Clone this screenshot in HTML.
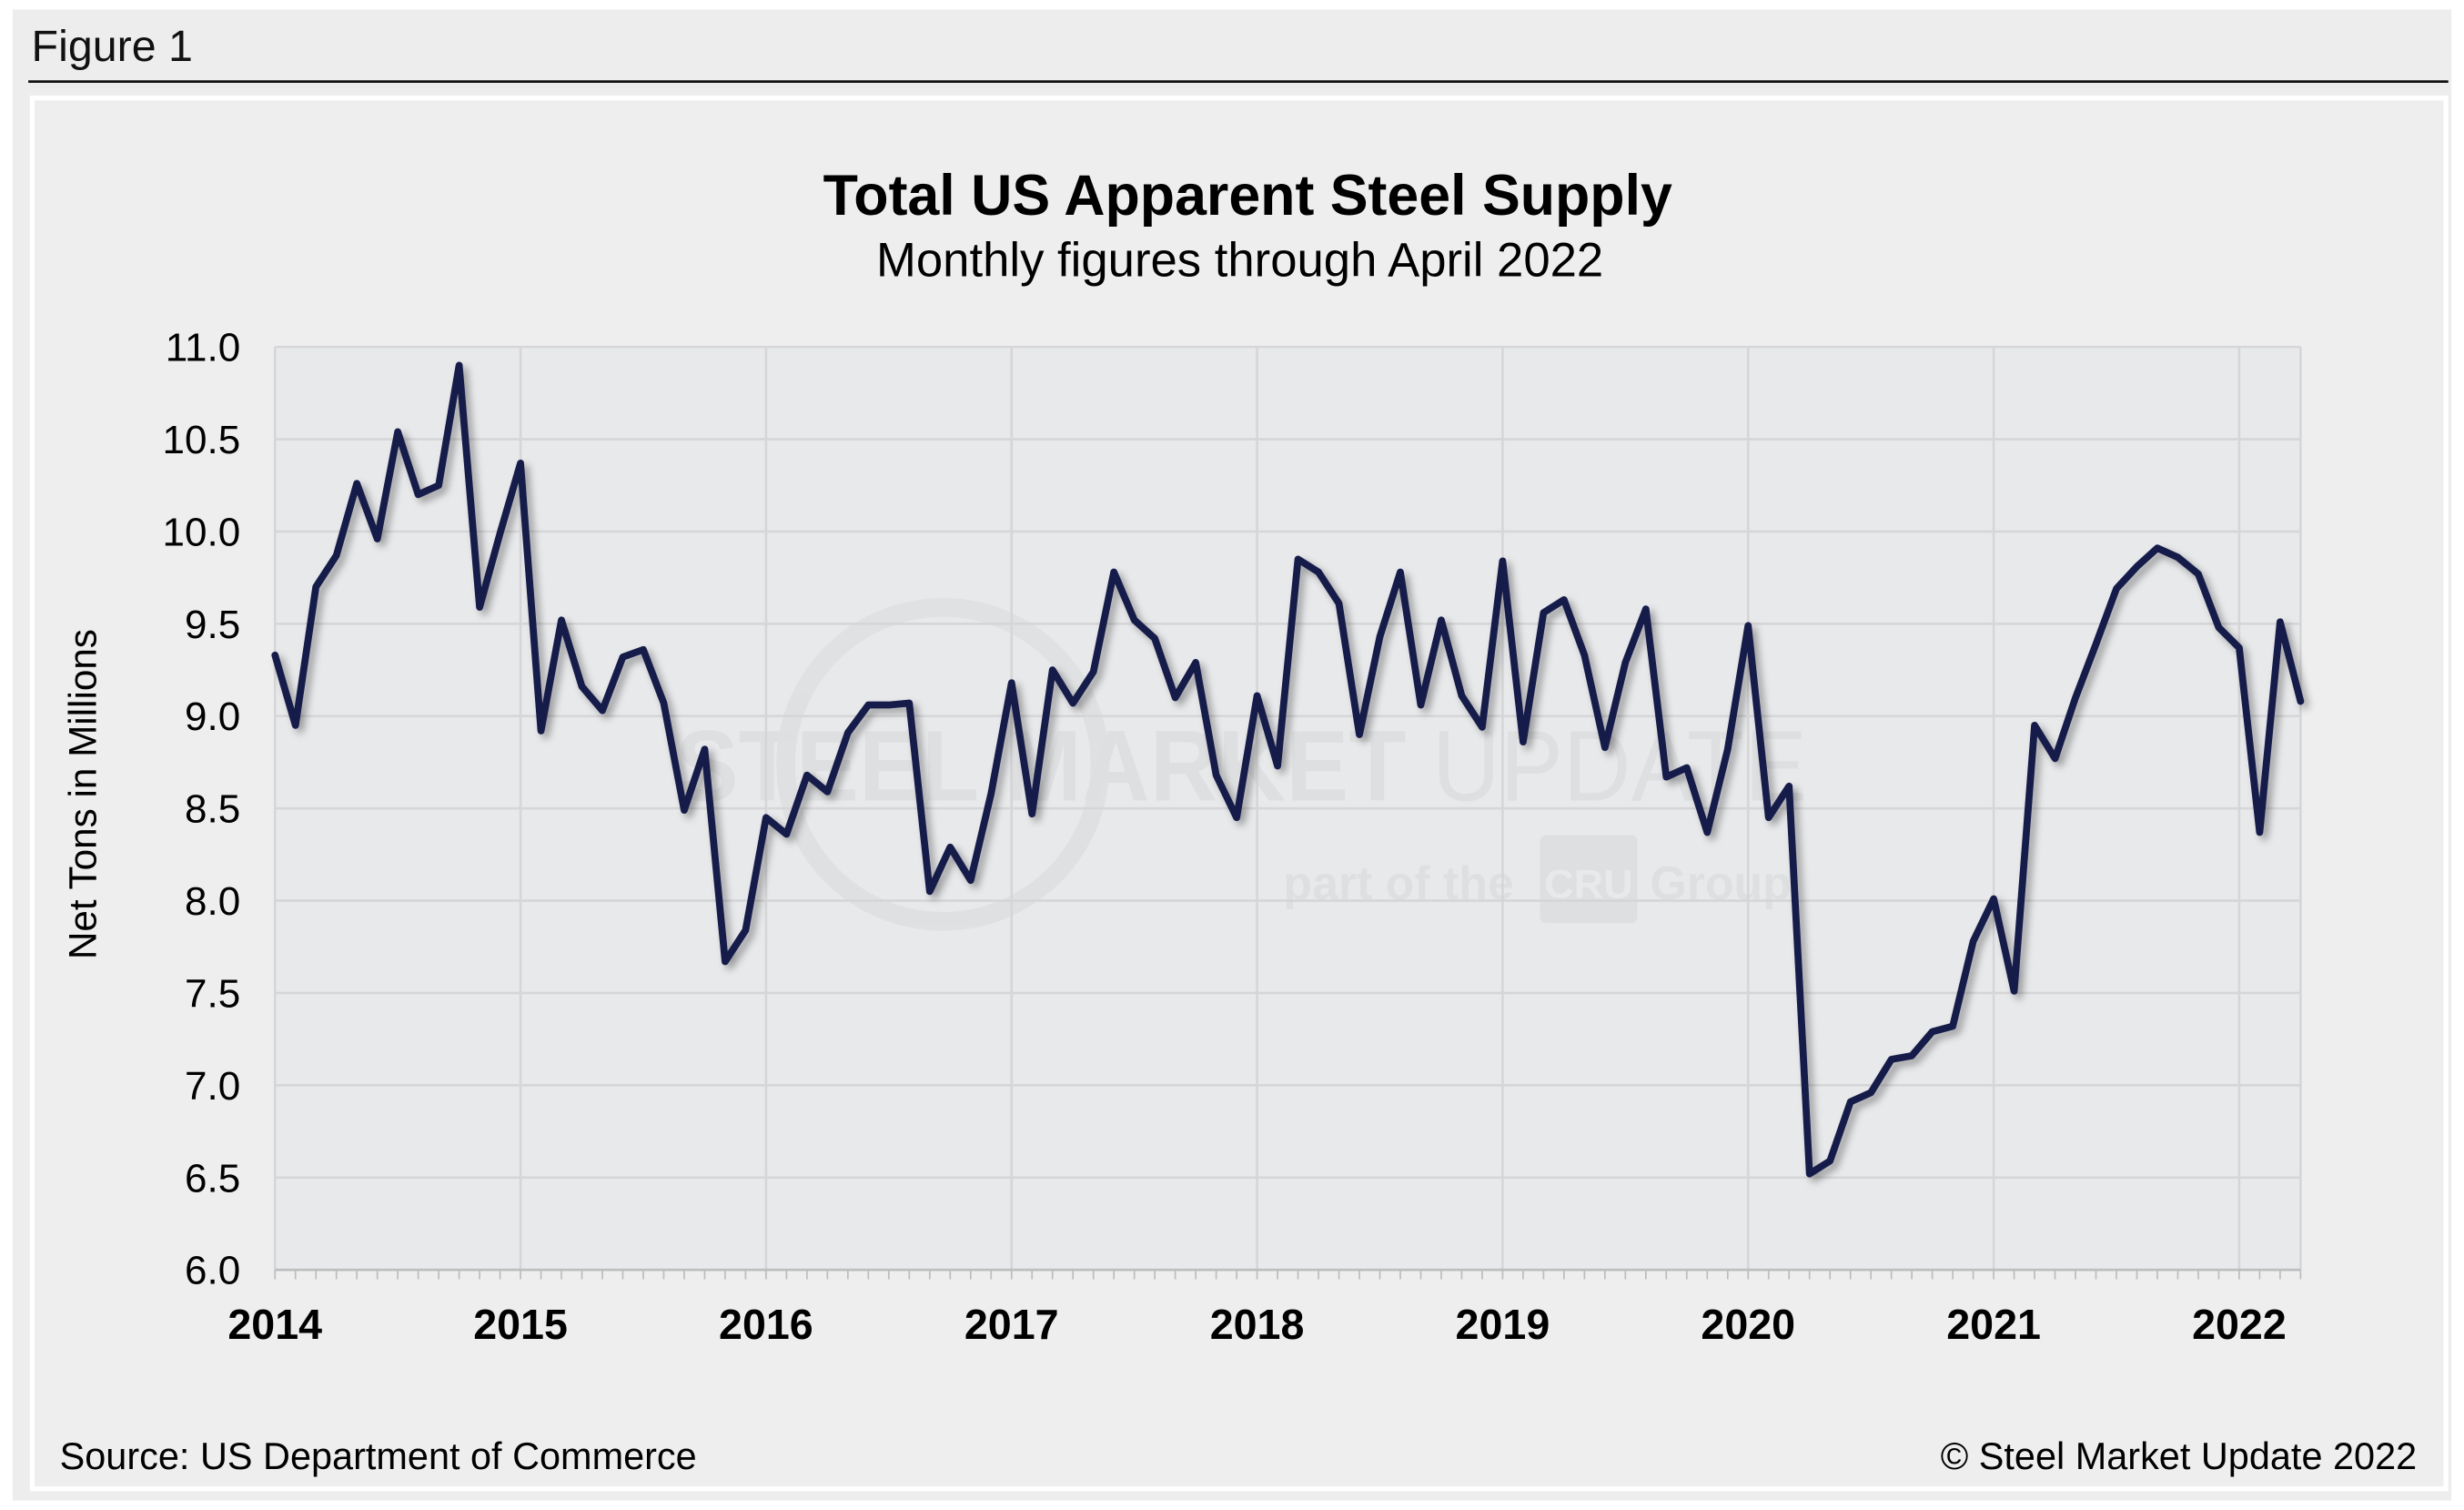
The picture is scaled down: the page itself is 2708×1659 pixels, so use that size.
<!DOCTYPE html>
<html><head><meta charset="utf-8">
<style>
html,body{margin:0;padding:0;background:#fff;}
svg{display:block;}
text{font-family:"Liberation Sans",Arial,sans-serif;}
</style></head>
<body>
<svg id="chart" width="2708" height="1659" viewBox="0 0 1568 962" preserveAspectRatio="none" xmlns="http://www.w3.org/2000/svg">
<defs>
<filter id="sh" x="-5%" y="-5%" width="110%" height="110%"><feGaussianBlur in="SourceAlpha" stdDeviation="2.5"/><feOffset dx="3" dy="3"/><feComponentTransfer><feFuncA type="linear" slope="0.35"/></feComponentTransfer><feMerge><feMergeNode/><feMergeNode in="SourceGraphic"/></feMerge></filter>
</defs>
<rect x="0" y="0" width="1568" height="962" fill="#fff"/>
<rect x="8" y="6" width="1552" height="950" fill="#ededed"/>
<text x="20" y="39" font-size="28" fill="#111">Figure 1</text>
<line x1="18" y1="52" x2="1558" y2="52" stroke="#111" stroke-width="1.6"/>
<rect x="20.5" y="62.5" width="1536" height="886" fill="#eeeeee" stroke="#fff" stroke-width="3"/>
<text x="794" y="137" font-size="36.3" font-weight="bold" text-anchor="middle" fill="#000">Total US Apparent Steel Supply</text>
<text x="789" y="176" font-size="30.5" text-anchor="middle" fill="#000">Monthly figures through April 2022</text>
<rect x="175" y="221" width="1289" height="588" fill="#e8e9eb"/>
<g id="grid"></g>
<g id="watermark" opacity="0.45">
<circle cx="600" cy="487" r="100" fill="none" stroke="#d6d6d8" stroke-width="12"/>
<text x="790" y="510" font-size="64" text-anchor="middle" fill="#d4d4d6" textLength="720" lengthAdjust="spacingAndGlyphs"><tspan font-weight="bold">STEEL MARKET</tspan> UPDATE</text>
<text x="890" y="573" font-size="30" font-weight="bold" text-anchor="middle" fill="#d4d4d6">part of the</text>
<rect x="980" y="532" width="62" height="56" rx="4" fill="#d4d4d6"/>
<text x="1011" y="572" font-size="26" font-weight="bold" text-anchor="middle" fill="#e8e9eb">CRU</text>
<text x="1095" y="573" font-size="30" font-weight="bold" text-anchor="middle" fill="#d4d4d6">Group</text>
</g>
<g id="axes"></g>
<g id="series"></g>
<text transform="translate(61,506) rotate(-90)" font-size="24.5" text-anchor="middle" fill="#000">Net Tons in Millions</text>
<text x="38" y="936" font-size="24" fill="#000">Source: US Department of Commerce</text>
<text x="1538" y="936" font-size="24" text-anchor="end" fill="#000">© Steel Market Update 2022</text>
</svg>
<script>
const values = [
9.33,8.95,9.70,9.87,10.26,9.96,10.54,10.20,10.25,10.90,9.59,9.99,
10.37,8.92,9.52,9.16,9.03,9.32,9.36,9.07,8.49,8.82,7.67,7.84,
8.45,8.36,8.68,8.59,8.91,9.06,9.06,9.07,8.05,8.29,8.11,8.58,
9.18,8.47,9.25,9.07,9.24,9.78,9.52,9.42,9.10,9.29,8.68,8.45,
9.11,8.73,9.85,9.78,9.61,8.90,9.43,9.78,9.06,9.52,9.11,8.94,
9.84,8.86,9.56,9.63,9.33,8.83,9.29,9.58,8.67,8.72,8.37,8.82,
9.49,8.45,8.62,6.52,6.59,6.91,6.96,7.14,7.16,7.29,7.32,7.78,
8.01,7.51,8.95,8.77,9.10,9.39,9.69,9.81,9.91,9.86,9.77,9.48,
9.37,8.37,9.51,9.08];
const startYear = 2014;
const years = [2014,2015,2016,2017,2018,2019,2020,2021,2022];
const yTicks = [6.0,6.5,7.0,7.5,8.0,8.5,9.0,9.5,10.0,10.5,11.0];

const NS = "http://www.w3.org/2000/svg";
const X0 = 175, X1 = 1464, Y0 = 809, Y1 = 221;
const nMonths = values.length - 1;
function xScale(m){ return X0 + (X1 - X0) * m / nMonths; }
function yScale(v){ return Y0 - (v - 6) / (11 - 6) * (Y0 - Y1); }
function mk(tag, attrs, parent){ const e = document.createElementNS(NS, tag); for (const k in attrs) e.setAttribute(k, attrs[k]); parent.appendChild(e); return e; }

const grid = document.getElementById('grid');
const axes = document.getElementById('axes');
yTicks.forEach(t => {
  const y = yScale(t);
  const l = mk('line', {x1: X0, x2: X1, y1: y, y2: y, stroke: '#d6d6d8', 'stroke-width': 1.5}, grid);
  
  
  const tx = mk('text', {x: 153, y: y + 9, 'font-size': 25.5, 'text-anchor': 'end', fill: '#000'}, axes);
  tx.textContent = t.toFixed(1);
  
  
});
years.forEach(yr => {
  const x = xScale((yr - startYear) * 12);
  const l = mk('line', {x1: x, x2: x, y1: Y1, y2: Y0, stroke: '#d6d6d8', 'stroke-width': 1.5}, grid);
  
  
  const tx = mk('text', {x: x, y: 853, 'font-size': 27, 'font-weight': 'bold', 'text-anchor': 'middle', fill: '#000'}, axes);
  tx.textContent = yr;
  
  
});
mk('line', {x1: X1, x2: X1, y1: Y1, y2: Y0, stroke: '#d6d6d8', 'stroke-width': 1.5}, grid);
const ax = mk('line', {x1: X0, x2: X1, y1: Y0, y2: Y0, stroke: '#bdbdbd', 'stroke-width': 1.5}, axes);


for (let m = 0; m <= nMonths; m++) {
  const x = xScale(m);
  mk('line', {x1: x, x2: x, y1: Y0, y2: Y0 + 6, stroke: '#bdbdbd', 'stroke-width': 1}, axes);
}
const pts = values.map((v, i) => xScale(i).toFixed(2) + ',' + yScale(v).toFixed(2)).join(' ');
const line = mk('polyline', {points: pts, fill: 'none', stroke: '#161b4a', 'stroke-width': 4.5, 'stroke-linejoin': 'round', 'stroke-linecap': 'round', filter: 'url(#sh)'}, document.getElementById('series'));


</script>
</body></html>
